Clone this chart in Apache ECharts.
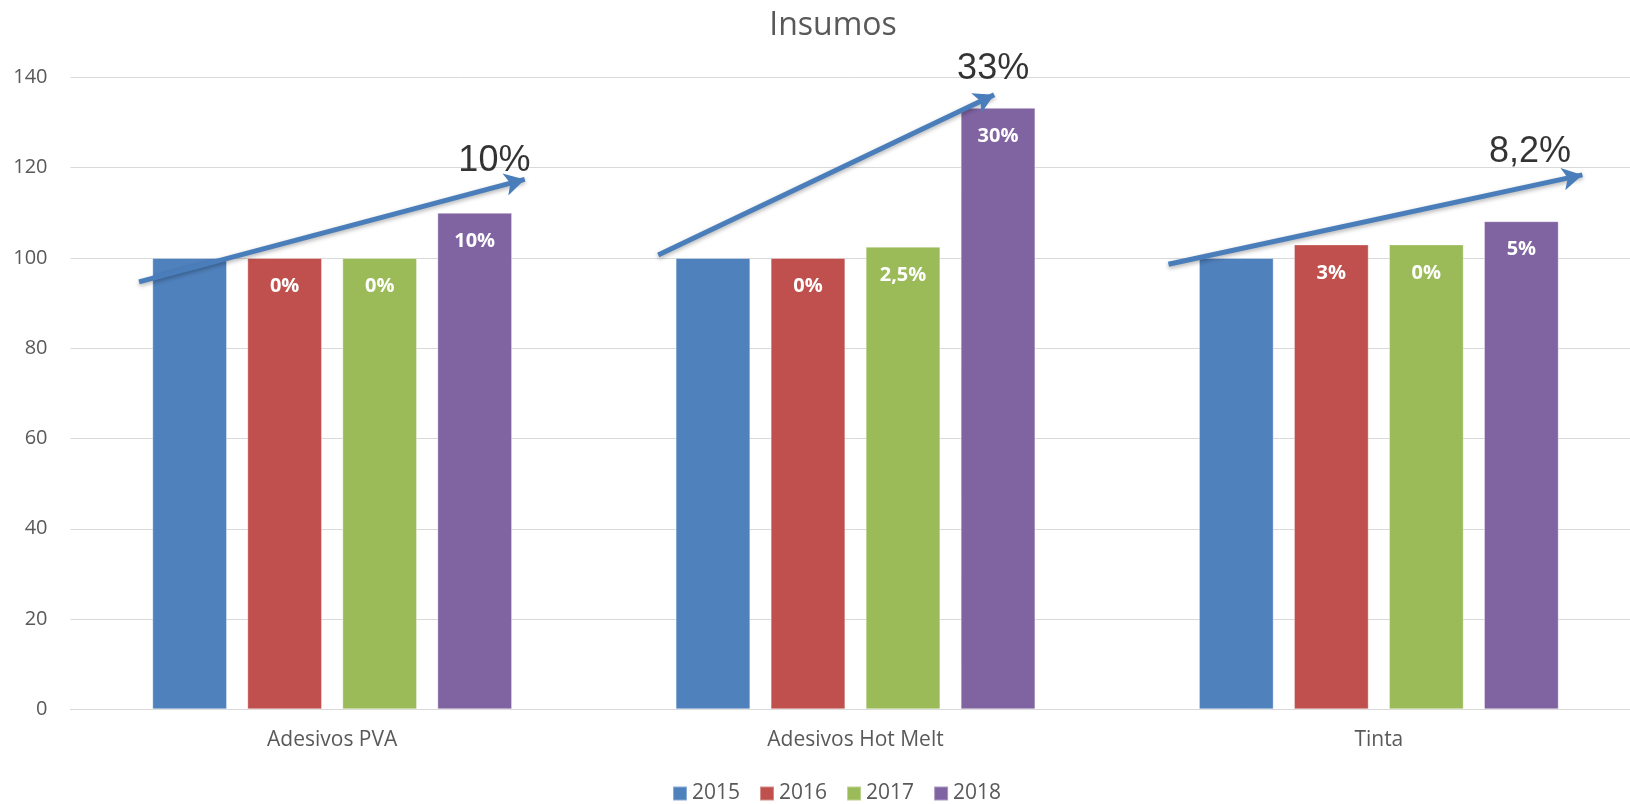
<!DOCTYPE html>
<html>
<head>
<meta charset="utf-8">
<script src="https://cdn.jsdelivr.net/npm/echarts@6/dist/echarts.min.js"></script>
<style>
html,body{margin:0;padding:0;background:#fff;}
#chart{width:1630px;height:804px;}
</style>
</head>
<body>
<div id="chart"></div>
<script>
// ---- data ----
const categories = ['Adesivos PVA', 'Adesivos Hot Melt', 'Tinta'];
const years = ['2015', '2016', '2017', '2018'];
const values2015 = [100, 100, 100];
const values2016 = [100, 100, 103];
const values2017 = [100, 102.5, 103];
const values2018 = [110, 133.25, 108.15];
const labels2015 = ['', '', ''];
const labels2016 = ['0%', '0%', '3%'];
const labels2017 = ['0%', '2,5%', '0%'];
const labels2018 = ['10%', '30%', '5%'];
const yTicks = [0, 20, 40, 60, 80, 100, 120, 140];
// trend arrows (x in category units, y in axis units)
const arrowStarts = [[-0.369, 94.7], [0.623, 100.65], [1.598, 98.6]];
const arrowEnds = [[0.368, 117.4], [1.265, 136.15], [2.389, 118.4]];
const arrowTexts = ['10%', '33%', '8,2%'];
const arrowTextPos = [[0.310, 121.4], [1.263, 141.9], [2.289, 123.4]];

const colors = ['#4F81BD', '#C0504D', '#9BBB59', '#8064A2'];
const seriesValues = [values2015, values2016, values2017, values2018];
const seriesLabels = [labels2015, labels2016, labels2017, labels2018];
const FONT = '"Open Sans", "Liberation Sans", sans-serif';

const chart = echarts.init(document.getElementById('chart'), null, {renderer: 'canvas'});

const barSeries = years.map((y, i) => ({
  name: y,
  type: 'bar',
  xAxisIndex: 0,
  yAxisIndex: 0,
  barWidth: 74.7,
  barGap: '27.2%',
  itemStyle: {color: colors[i], borderColor: 'rgba(255,255,255,0.35)', borderWidth: 1},
  data: seriesValues[i],
  label: {
    show: true,
    position: 'insideTop',
    distance: 18.5,
    color: '#ffffff',
    fontFamily: FONT,
    fontWeight: 'bold',
    fontSize: 20,
    formatter: p => seriesLabels[i][p.dataIndex]
  },
  emphasis: {disabled: true}
}));

const arrowSeries = {
  name: 'arrows',
  type: 'scatter',
  xAxisIndex: 1,
  yAxisIndex: 0,
  symbolSize: 1,
  clip: false,
  silent: true,
  itemStyle: {color: 'transparent'},
  data: arrowTextPos.map((p, i) => ({value: p, name: arrowTexts[i]})),
  label: {
    show: true,
    position: 'inside',
    formatter: p => p.name,
    color: '#000000',
    fontFamily: '"Liberation Sans", sans-serif',
    fontSize: 36
  },
  markLine: {
    silent: true,
    symbol: ['none', 'arrow'],
    symbolSize: [17, 20],
    label: {show: false},
    lineStyle: {
      color: '#4A7EBB', width: 5, type: 'solid',
      shadowBlur: 4, shadowColor: 'rgba(0,0,0,0.3)', shadowOffsetY: 2
    },
    itemStyle: {color: '#4A7EBB'},
    emphasis: {disabled: true},
    data: arrowStarts.map((s, i) => [{coord: s}, {coord: arrowEnds[i]}])
  },
  z: 10
};

chart.setOption({
  animation: false,
  color: colors,
  title: {
    text: 'Insumos',
    left: 828,
    top: 5,
    textAlign: 'center',
    textStyle: {fontFamily: FONT, fontWeight: 'normal', fontSize: 32, color: '#595959'}
  },
  legend: {
    data: years,
    left: 667,
    top: 778,
    padding: 5,
    itemWidth: 14,
    itemHeight: 14,
    itemGap: 19,
    icon: 'rect',
    textStyle: {fontFamily: FONT, fontSize: 21, color: '#595959'}
  },
  grid: {left: 70.5, width: 1570, top: 77.4, bottom: 94.7, containLabel: false, outerBoundsMode: 'none'},
  xAxis: [{
    type: 'category',
    data: categories,
    axisLine: {lineStyle: {color: '#D9D9D9', width: 1}},
    axisTick: {show: false},
    axisLabel: {fontFamily: FONT, fontSize: 21, color: '#595959', margin: 20}
  }, {
    type: 'value',
    min: -0.5,
    max: 2.5,
    show: false
  }],
  yAxis: {
    type: 'value',
    min: yTicks[0],
    max: yTicks[yTicks.length - 1],
    interval: yTicks[1] - yTicks[0],
    axisLine: {show: false},
    axisTick: {show: false},
    splitLine: {lineStyle: {color: '#D9D9D9', width: 1}},
    axisLabel: {fontFamily: FONT, fontSize: 20, color: '#595959', margin: 23}
  },
  series: [...barSeries, arrowSeries]
});
</script>
</body>
</html>
